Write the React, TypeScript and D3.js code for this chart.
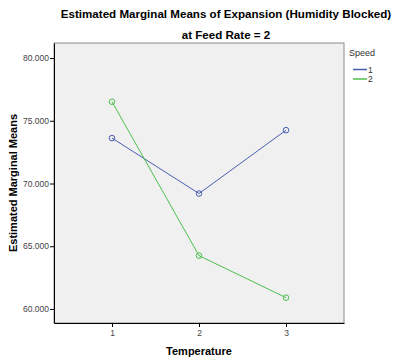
import { useEffect, useRef } from 'react';
import * as d3 from 'd3';

const temperatures = [1, 2, 3];
const speedLabels = ['1', '2'];
const speed1 = [73.62, 69.2, 74.25];
const speed2 = [76.52, 64.25, 60.9];
const yTicks = [60, 65, 70, 75, 80];
const colors = ['#4A5EB0', '#4CC04C'];

export default function App() {
  const svgRef = useRef<SVGSVGElement>(null);

  useEffect(() => {
    if (!svgRef.current) return;
    const svg = d3.select(svgRef.current);
    svg.selectAll('*').remove();

    const left = 54, right = 344, top = 43, bottom = 323;
    const font = 'Liberation Sans, Arial, sans-serif';

    const x = d3.scaleLinear().domain([1 / 3, 11 / 3]).range([left, right]);
    const y = d3.scaleLinear().domain([58.88, 81.2]).range([bottom, top]);

    // titles
    svg.append('text')
      .attr('x', 226).attr('y', 18)
      .attr('text-anchor', 'middle')
      .style('font-family', font).style('font-size', '11.6px').style('font-weight', 'bold')
      .attr('fill', '#000')
      .text('Estimated Marginal Means of Expansion (Humidity Blocked)');
    svg.append('text')
      .attr('x', 226).attr('y', 39)
      .attr('text-anchor', 'middle')
      .style('font-family', font).style('font-size', '11.6px').style('font-weight', 'bold')
      .attr('fill', '#000')
      .text('at Feed Rate = 2');

    // plot area
    svg.append('rect')
      .attr('x', left).attr('y', top)
      .attr('width', right - left).attr('height', bottom - top)
      .attr('fill', '#F0F0F0')
      .attr('stroke', '#8C8C8C').attr('stroke-width', 1);

    // axes
    const yAxis = d3.axisLeft(y).tickValues(yTicks).tickSize(4).tickSizeOuter(0).tickFormat(d3.format('.3f'));
    const gy = svg.append('g').attr('transform', `translate(${left},0)`).call(yAxis);
    const xAxis = d3.axisBottom(x).tickValues(temperatures).tickSize(4).tickSizeOuter(0).tickFormat(d3.format('d'));
    const gx = svg.append('g').attr('transform', `translate(0,${bottom})`).call(xAxis);
    [gy, gx].forEach(g => {
      g.select('.domain').attr('stroke', '#000');
      g.selectAll('.tick line').attr('stroke', '#000');
      g.selectAll('.tick text')
        .style('font-family', font).style('font-size', '8.5px').attr('fill', '#444');
    });
    gy.selectAll('.tick text').attr('x', -5);
    gx.selectAll('.tick text').attr('y', 7);

    // axis titles
    svg.append('text')
      .attr('transform', `translate(17,${(top + bottom) / 2}) rotate(-90)`)
      .attr('text-anchor', 'middle')
      .style('font-family', font).style('font-size', '11px').style('font-weight', 'bold')
      .text('Estimated Marginal Means');
    svg.append('text')
      .attr('x', (left + right) / 2).attr('y', 355)
      .attr('text-anchor', 'middle')
      .style('font-family', font).style('font-size', '11px').style('font-weight', 'bold')
      .text('Temperature');

    // lines
    const series = [speed1, speed2];
    const line = d3.line<number>().x((_, i) => x(temperatures[i])).y(d => y(d));
    series.forEach((vals, si) => {
      svg.append('path')
        .datum(vals)
        .attr('d', line)
        .attr('fill', 'none')
        .attr('stroke', colors[si])
        .attr('stroke-width', 1);
      svg.selectAll(`.pt${si}`)
        .data(vals)
        .enter()
        .append('circle')
        .attr('cx', (_, i) => x(temperatures[i]))
        .attr('cy', d => y(d))
        .attr('r', 2.8)
        .attr('fill', 'none')
        .attr('stroke', colors[si])
        .attr('stroke-width', 1);
    });

    // legend
    svg.append('text')
      .attr('x', 349).attr('y', 56)
      .style('font-family', font).style('font-size', '9px').attr('fill', '#333')
      .text('Speed');
    speedLabels.forEach((lab, i) => {
      const ly = 69.5 + i * 9.5;
      svg.append('line')
        .attr('x1', 353).attr('x2', 367)
        .attr('y1', ly).attr('y2', ly)
        .attr('stroke', colors[i]).attr('stroke-width', 1.5);
      svg.append('text')
        .attr('x', 368).attr('y', ly + 3)
        .style('font-family', font).style('font-size', '8.5px').attr('fill', '#333')
        .text(lab);
    });
  }, []);

  return (
    <svg
      ref={svgRef}
      width={404}
      height={363}
      style={{ position: 'absolute', left: 0, top: 0, background: '#fff' }}
    />
  );
}
